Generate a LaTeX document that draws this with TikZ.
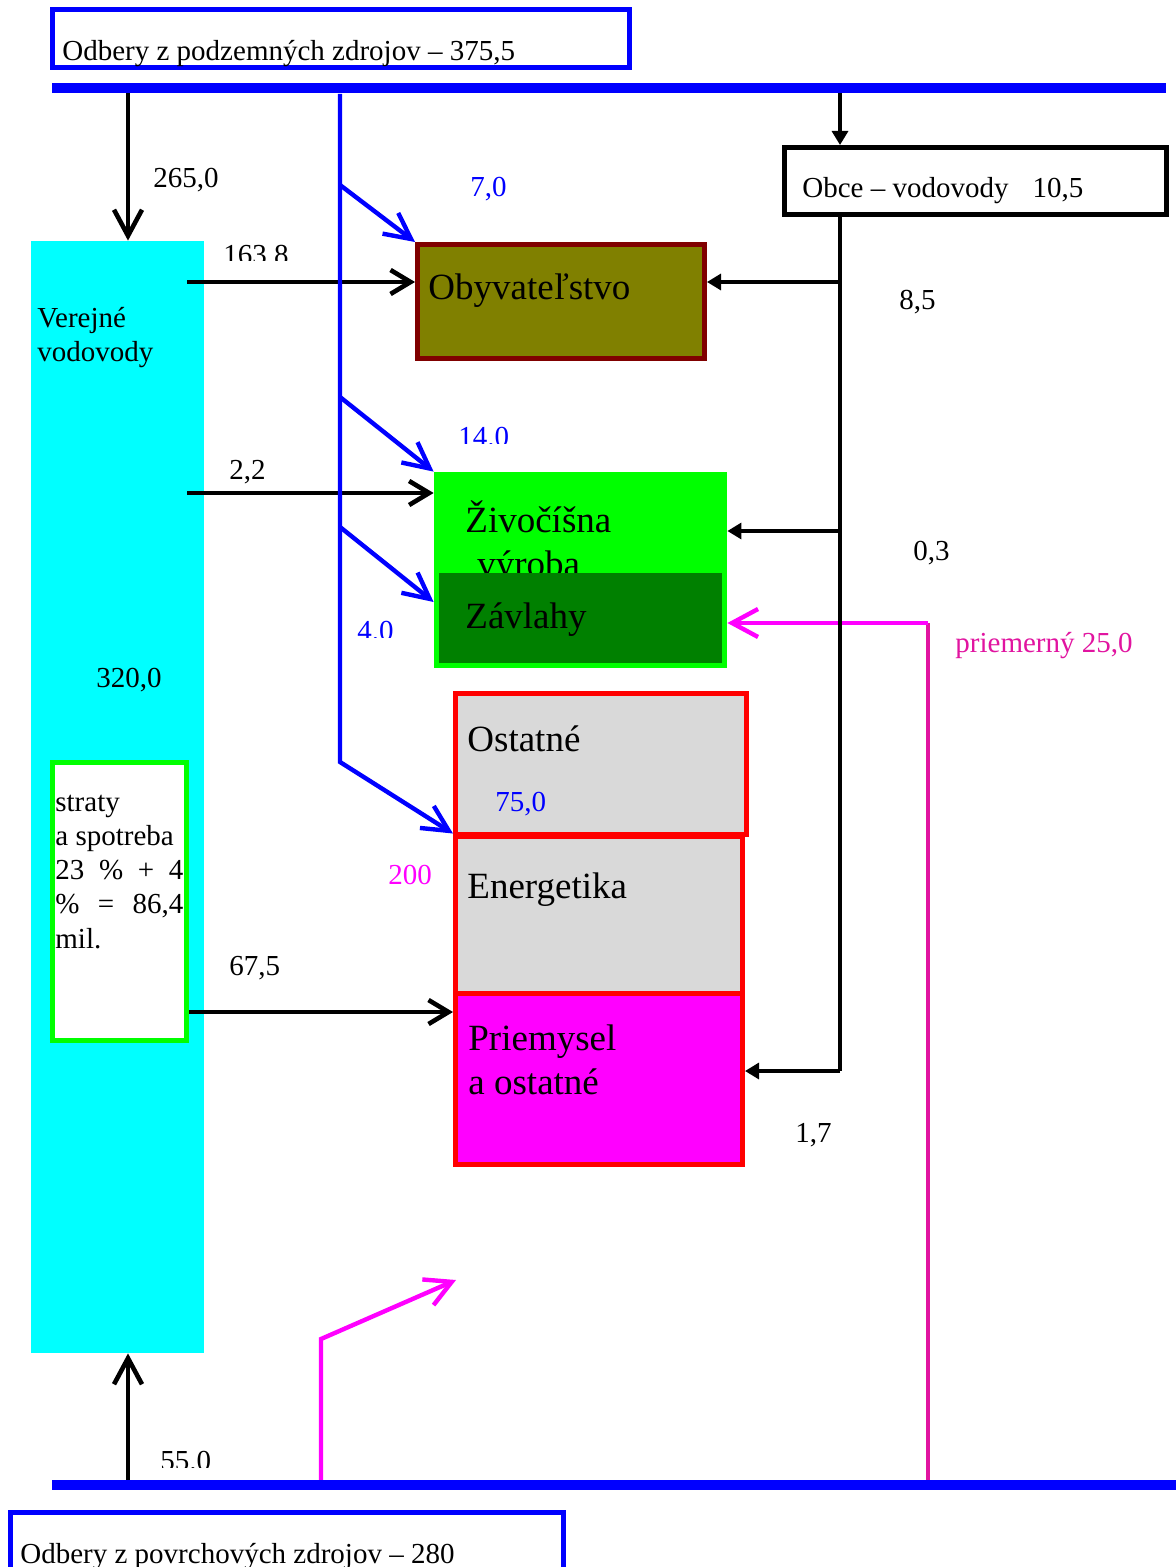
\documentclass[tikz,border=0pt]{standalone}
\usepackage{fontspec}
\setmainfont{Liberation Serif}
\usetikzlibrary{arrows.meta}
\definecolor{cyanf}{RGB}{0,255,255}
\definecolor{blueb}{RGB}{0,0,255}
\definecolor{olivef}{RGB}{128,128,0}
\definecolor{darkredb}{RGB}{128,0,0}
\definecolor{greenf}{RGB}{0,255,0}
\definecolor{dgreenf}{RGB}{0,128,0}
\definecolor{grayf}{RGB}{217,217,217}
\definecolor{redb}{RGB}{255,0,0}
\definecolor{magf}{RGB}{255,0,255}
\definecolor{pinkl}{RGB}{225,20,160}
\begin{document}
\begin{tikzpicture}[x=0.5pt,y=-0.5pt,
  lbl/.style={anchor=base west, inner sep=0, font=\fontsize{14.5pt}{17.4pt}\selectfont},
  big/.style={anchor=base west, inner sep=0, font=\fontsize{18.5pt}{22pt}\selectfont},
  box/.style={rectangle, inner sep=0, anchor=center},
  blk/.style={draw=black, line width=2.3pt, -{Straight Barb[length=10pt,width=12pt]}},
  blkv/.style={draw=black, line width=2.3pt, -{Straight Barb[length=13pt,width=14pt]}},
  bl/.style={draw=blueb, line width=2.2pt, line join=miter},
  blarr/.style={bl, -{Straight Barb[length=13pt,width=13pt]}},
  ob/.style={draw=black, line width=1.6pt},
  obarr/.style={ob, -{Triangle[length=7pt,width=8pt]}},
  mg/.style={draw=magf, line width=2.2pt, -{Straight Barb[length=13pt,width=14pt]}},
  pk/.style={draw=pinkl, line width=1.8pt}]
\useasboundingbox (0,0) rectangle (1176,1567);
\clip (0,0) rectangle (1176,1567);
\fill[white] (0,0) rectangle (1176,1567);

% boxes
\node[box, draw=blueb, line width=2.5pt, minimum width=288.5pt, minimum height=29pt] (topbox) at (341,39) {};
\node[box, draw=blueb, line width=2.5pt, minimum width=276.5pt, minimum height=53.75pt] (botbox) at (287,1566.25) {};
\node[box, fill=cyanf, minimum width=86.5pt, minimum height=556pt] (cyan) at (117.5,797) {};
\node[box, draw=greenf, fill=white, line width=2.5pt, minimum width=67pt, minimum height=139pt] (strat) at (119.5,901.5) {};
\node[box, draw=darkredb, fill=olivef, line width=2.5pt, minimum width=143.5pt, minimum height=57pt] (obyv) at (561,301.5) {};
\node[box, fill=greenf, minimum width=146.5pt, minimum height=98pt] (zivo) at (580.5,570) {};
\node[big] (tzivo) at (465,532) {Živočíšna};
\node[big] (tvyr) at (477,576) {výroba};
\node[box, fill=dgreenf, minimum width=141.5pt, minimum height=45pt] (zavl) at (580.5,618) {};
\node[box, draw=redb, fill=grayf, line width=2.5pt, minimum width=143.5pt, minimum height=78.5pt] (ener) at (599,914.5) {};
\node[box, draw=redb, fill=magf, line width=2.5pt, minimum width=143.5pt, minimum height=85.75pt] (priem) at (599,1078.75) {};
\node[box, draw=redb, fill=grayf, line width=2.5pt, minimum width=145.5pt, minimum height=70.5pt] (ostat) at (601,764) {};
\node[box, draw=black, fill=white, line width=2.5pt, minimum width=191pt, minimum height=33.5pt] (obce) at (975.5,181) {};

% coordinates
\coordinate (tbL) at (52,88);
\coordinate (tbR) at (1166,88);
\coordinate (bbL) at (52,1485);
\coordinate (bbR) at (1180,1485);
\coordinate (t1) at (128,90);
\coordinate (b1) at (128,1483);
\coordinate (c1) at (187,282);
\coordinate (c2) at (187,493);
\coordinate (c3) at (189,1012);
\coordinate (v0) at (340,94);
\coordinate (v1) at (340,762);
\coordinate (v2) at (340,185);
\coordinate (v3) at (340,397);
\coordinate (v4) at (340,527);
\coordinate (o1) at (840,90);
\coordinate (o2) at (840,1071);
\coordinate (o3) at (840,282);
\coordinate (o4) at (840,531);
\coordinate (m0) at (928,1485);
\coordinate (m1) at (928,623);
\coordinate (m2) at (321,1485);
\coordinate (m3) at (321,1339);
\coordinate (m4) at (456,1280);

% black arrows from/to cyan
\draw[blkv] (t1) -- (t1 |- cyan.north);
\draw[blkv] (b1) -- (b1 |- cyan.south);
\draw[blk] (c1) -- (c1 -| obyv.west);
\draw[blk] (c2) -- (c2 -| zivo.west);
\draw[blk] (c3) -- (c3 -| priem.west);

% blue lines
\draw[blarr] (v0) -- (v1) -- (ener.north west);
\draw[blarr] (v2) -- (obyv.north west);
\draw[blarr] (v3) -- (zivo.north west);
\draw[blarr] (v4) -- ([yshift=-16pt]zivo.west);

% magenta lines
\draw[pk] (m0) -- (m1);
\draw[mg] (m1) -- (m1 -| zivo.east);
\draw[mg] (m2) -- (m3) -- (m4);

% Obce lines
\draw[obarr] (o1) -- (o1 |- obce.north);
\draw[ob] (o1 |- obce.south) -- (o2);
\draw[obarr] (o3) -- (o3 -| obyv.east);
\draw[obarr] (o4) -- (o4 -| zivo.east);
\draw[obarr] (o2) -- (o2 -| priem.east);

% bars
\draw[blueb, line width=5pt] (tbL) -- (tbR);
\draw[blueb, line width=5pt] (bbL) -- (bbR);

% texts
\node[lbl] (ttop) at (62,61) {Odbery z podzemných zdrojov – 375,5};
\node[lbl] (tbot) at (20,1563) {Odbery z povrchových zdrojov – 280};
\node[lbl] (tobce) at (802,198) {Obce – vodovody\hspace{12pt}10,5};
\node[lbl, align=left] (tver) at (37,362) {Verejné\\vodovody};
\node[lbl] (t320) at (96,687) {320,0};
\node[lbl, align=left, font=\fontsize{14.5pt}{17.1pt}\selectfont] (tstrat) at (55,948) {straty\\a spotreba\\\makebox[64pt][s]{23 \% + 4}\\\makebox[64pt][s]{\% = 86,4}\\mil.};
\node[big] (tobyv) at (428,300) {Obyvateľstvo};
\node[big] (tzavl) at (465,628) {Závlahy};
\node[big] (tostat) at (467,751) {Ostatné};
\node[big] (tener) at (467,898) {Energetika};
\node[big, align=left] (tpriem) at (468,1094) {Priemysel\\a ostatné};

\node[lbl] (l265) at (153,188) {265,0};
\node[lbl, text=blueb] (l7) at (470,197) {7,0};
\node[lbl] (l85) at (899,310) {8,5};
\node[lbl] (l22) at (229,479) {2,2};
\node[lbl] (l03) at (913,560) {0,3};
\node[lbl, text=pinkl] (lprie) at (955,652) {priemerný 25,0};
\node[lbl, text=blueb] (l75) at (495,811) {75,0};
\node[lbl, text=magf] (l200) at (388,884) {200};
\node[lbl] (l675) at (229,975) {67,5};
\node[lbl] (l17) at (795,1142) {1,7};
\begin{scope}
\clip (200,200) rectangle (320,261);
\node[lbl] (l163) at (223,265) {163.8};
\end{scope}
\begin{scope}
\clip (440,400) rectangle (540,443);
\node[lbl, text=blueb] (l14) at (458,446) {14.0};
\end{scope}
\begin{scope}
\clip (345,600) rectangle (420,637);
\node[lbl, text=blueb] (l4) at (357,640) {4.0};
\end{scope}
\begin{scope}
\clip (150,1420) rectangle (240,1467);
\node[lbl] (l55) at (160,1470) {55.0};
\end{scope}
\end{tikzpicture}
\end{document}
